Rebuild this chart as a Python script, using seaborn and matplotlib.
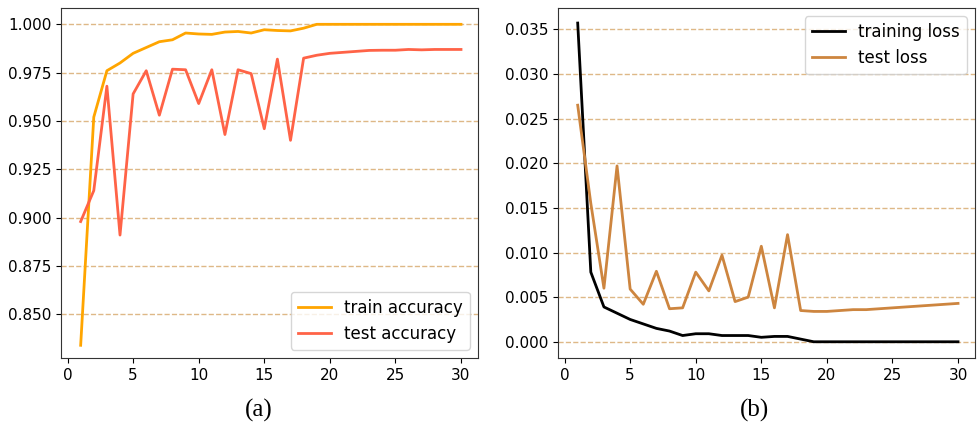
import pandas as pd
import matplotlib.pyplot as plt
import seaborn as sns

# epochs
epochs = list(range(1, 31))

# accuracy curves
train_acc = [0.834, 0.952, 0.976, 0.980, 0.985, 0.988, 0.991, 0.992, 0.9955, 0.995,
             0.9948, 0.996, 0.9963, 0.9955, 0.9972, 0.9968, 0.9966, 0.998, 1.0, 1.0,
             1.0, 1.0, 1.0, 1.0, 1.0, 1.0, 1.0, 1.0, 1.0, 1.0]
test_acc = [0.898, 0.914, 0.968, 0.891, 0.964, 0.976, 0.953, 0.9768, 0.9765, 0.959,
            0.9765, 0.943, 0.9765, 0.9745, 0.946, 0.982, 0.940, 0.9825, 0.984, 0.985,
            0.9855, 0.986, 0.9865, 0.9866, 0.9866, 0.987, 0.9868, 0.987, 0.987, 0.987]

# loss curves
train_loss = [0.0357, 0.0078, 0.0039, 0.0032, 0.0025, 0.0020, 0.0015, 0.0012, 0.0007, 0.0009,
              0.0009, 0.0007, 0.0007, 0.0007, 0.0005, 0.0006, 0.0006, 0.0003, 0.0, 0.0,
              0.0, 0.0, 0.0, 0.0, 0.0, 0.0, 0.0, 0.0, 0.0, 0.0]
test_loss = [0.0265, 0.0155, 0.0060, 0.0197, 0.0059, 0.0042, 0.0079, 0.0037, 0.0038, 0.0078,
             0.0057, 0.0097, 0.0045, 0.0050, 0.0107, 0.0038, 0.0120, 0.0035, 0.0034, 0.0034,
             0.0035, 0.0036, 0.0036, 0.0037, 0.0038, 0.0039, 0.0040, 0.0041, 0.0042, 0.0043]

acc_df = pd.DataFrame({'epoch': epochs * 2,
                       'value': train_acc + test_acc,
                       'series': ['train accuracy'] * 30 + ['test accuracy'] * 30})
loss_df = pd.DataFrame({'epoch': epochs * 2,
                        'value': train_loss + test_loss,
                        'series': ['training loss'] * 30 + ['test loss'] * 30})

fig = plt.figure(figsize=(9.79, 4.38), dpi=100)
ax1 = fig.add_axes([0.0623, 0.183, 0.426, 0.799])
ax2 = fig.add_axes([0.570, 0.183, 0.426, 0.799])

sns.lineplot(data=acc_df, x='epoch', y='value', hue='series', ax=ax1,
             palette={'train accuracy': '#FFA500', 'test accuracy': '#FF6347'}, linewidth=2)
sns.lineplot(data=loss_df, x='epoch', y='value', hue='series', ax=ax2,
             palette={'training loss': 'black', 'test loss': '#CD853F'}, linewidth=2)

ax1.set_yticks([0.850, 0.875, 0.900, 0.925, 0.950, 0.975, 1.000])
ax1.set_ylim(0.8275, 1.0085)
ax2.set_yticks([0.0, 0.005, 0.010, 0.015, 0.020, 0.025, 0.030, 0.035])
ax2.set_ylim(-0.0018, 0.0374)

for ax in (ax1, ax2):
    ax.set_xlim(-0.5, 31.3)
    ax.set_xticks([0, 5, 10, 15, 20, 25, 30])
    ax.set_xlabel('')
    ax.set_ylabel('')
    ax.tick_params(labelsize=11)
    ax.grid(axis='y', linestyle='--', color='#DEB887', linewidth=1)
    ax.set_axisbelow(True)
    for s in ax.spines.values():
        s.set_color('#333333')

ax1.legend(loc='lower right', fontsize=12, title=None)
ax2.legend(loc='upper right', fontsize=12, title=None)

fig.text(0.264, 0.064, '(a)', ha='center', va='center', fontsize=18, family='Liberation Serif')
fig.text(0.771, 0.064, '(b)', ha='center', va='center', fontsize=18, family='Liberation Serif')

fig.savefig('out.png', dpi=100)
